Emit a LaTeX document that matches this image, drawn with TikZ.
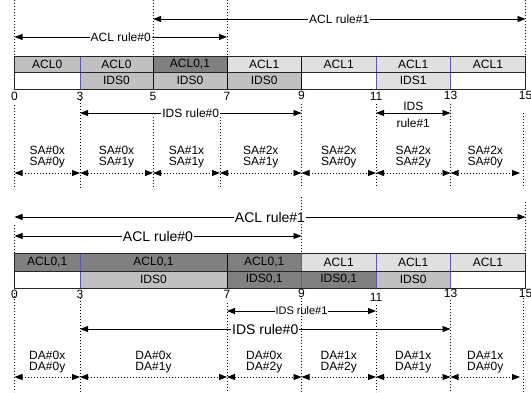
\documentclass[tikz,border=0pt]{standalone}
\usepackage{fontspec}
\setmainfont{Liberation Sans}
\usetikzlibrary{arrows.meta}
\definecolor{gdark}{HTML}{808080}
\definecolor{gmid}{HTML}{C0C0C0}
\definecolor{glight}{HTML}{E0E0E0}
\definecolor{navyline}{HTML}{000080}
\definecolor{slateline}{HTML}{5A5AB4}

\begin{document}
\begin{tikzpicture}[
    x=1pt, y=-1pt,
    every node/.style={font=\fontsize{12}{13}\selectfont},
    cell/.style={
        rectangle, draw=none, inner sep=0pt, outer sep=0pt,
        align=center,
    },
    rulearrow/.style={{Triangle[length=8pt,width=6pt]}-{Triangle[length=8pt,width=6pt]}, line width=0.8pt},
    spanarrow/.style={rulearrow, dash pattern=on 1pt off 2pt},
    rulelabel/.style={fill=white, inner sep=1pt},
    biglabel/.style={rulelabel, font=\fontsize{14}{16}\selectfont},
    smalllabel/.style={rulelabel, font=\fontsize{11}{12}\selectfont},
    spanlabel/.style={align=center, font=\fontsize{12}{11}\selectfont},
    ticklabel/.style={inner sep=0pt},
    guide/.style={line width=0.9pt, dash pattern=on 1pt off 2pt},
    divider/.style={line width=0.9pt, draw=navyline},
    softdivider/.style={line width=0.9pt, draw=slateline},
    barframe/.style={line width=0.9pt, draw=black!85},
]

\useasboundingbox (0,0) rectangle (531,392);

% =============================================================
% TOP: source address ranges
% =============================================================

% Guides above the bar
\draw[guide] (14.5,0) -- (14.5,56);
\draw[guide] (153,0) -- (153,56);
\draw[guide] (227,0) -- (227,56);
\draw[guide] (525.5,0) -- (525.5,56);

% ACL rules
\coordinate (aclOneA) at (153,19);
\coordinate (aclOneB) at (525.5,19);
\coordinate (aclZeroA) at (14.5,37);
\coordinate (aclZeroB) at (227,37);
\draw[rulearrow] (aclOneA) -- node[rulelabel] (aclOne) {ACL rule\#1} (aclOneB);
\draw[rulearrow] (aclZeroA) -- node[rulelabel] (aclZero) {ACL rule\#0} (aclZeroB);

% Bar, upper row
\node[cell, fill=gmid, minimum width=65.5pt, minimum height=16pt] (sa1) at (47.25,64) {ACL0};
\node[cell, fill=gmid, minimum width=73pt, minimum height=16pt] (sa2) at (116.5,64) {ACL0};
\node[cell, fill=gdark, minimum width=74pt, minimum height=16pt] (sa3) at (190,64) {ACL0,1};
\node[cell, fill=glight, minimum width=74.5pt, minimum height=16pt] (sa4) at (264.25,64) {ACL1};
\node[cell, fill=glight, minimum width=74.5pt, minimum height=16pt] (sa5) at (338.75,64) {ACL1};
\node[cell, fill=glight, minimum width=74.5pt, minimum height=16pt] (sa6) at (413.25,64) {ACL1};
\node[cell, fill=glight, minimum width=75pt, minimum height=16pt] (sa7) at (488,64) {ACL1};

% Bar, lower row
\node[cell, fill=gmid, minimum width=73pt, minimum height=17pt] (sb2) at (116.5,80.5) {IDS0};
\node[cell, fill=gmid, minimum width=74pt, minimum height=17pt] (sb3) at (190,80.5) {IDS0};
\node[cell, fill=gmid, minimum width=74.5pt, minimum height=17pt] (sb4) at (264.25,80.5) {IDS0};
\node[cell, fill=glight, minimum width=74.5pt, minimum height=17pt] (sb6) at (413.25,80.5) {IDS1};

\draw[softdivider] (80,56) -- (80,89);
\draw[divider] (153,56) -- (153,89);
\draw[divider] (227,56) -- (227,89);
\draw[divider] (301.5,56) -- (301.5,89);
\draw[softdivider] (376,56) -- (376,89);
\draw[softdivider] (450.5,56) -- (450.5,89);
\draw[barframe] (14.5,56) rectangle (525.5,89);
\draw[barframe] (14.5,72) -- (525.5,72);

% Positions
\node[ticklabel] (sn0) at (14.5,96) {0};
\node[ticklabel] (sn3) at (80,96) {3};
\node[ticklabel] (sn5) at (153,96) {5};
\node[ticklabel] (sn7) at (227,96) {7};
\node[ticklabel] (sn9) at (301.5,95) {9};
\node[ticklabel] (sn11) at (376,96) {11};
\node[ticklabel] (sn13) at (450.5,95) {13};
\node[ticklabel] (sn15) at (525.5,95) {15};

% IDS rules
\coordinate (idsZeroA) at (80,113);
\coordinate (idsZeroB) at (301.5,113);
\coordinate (idsOneA) at (376,113);
\coordinate (idsOneB) at (450.5,113);
\draw[rulearrow] (idsZeroA) -- node[rulelabel] (idsZero) {IDS rule\#0} (idsZeroB);
\draw[rulearrow] (idsOneA) -- (idsOneB);
\node[align=center, font=\fontsize{12}{17}\selectfont] (idsOne) at (413.25,114.5) {IDS\\rule\#1};

% Guides below the bar
\draw[guide] (14.5,105) -- (14.5,188);
\draw[guide] (80,100) -- (80,188);
\draw[guide] (153,117) -- (153,188);
\draw[guide] (220,117) -- (220,188);
\draw[guide] (301.5,104) -- (301.5,188);
\draw[guide] (376,104) -- (376,188);
\draw[guide] (450.5,104) -- (450.5,188);
\draw[guide] (523,113) -- (523,188);

% Source address spans
\coordinate (s0) at (14.5,173);
\coordinate (s3) at (80,173);
\coordinate (s5) at (153,173);
\coordinate (s7) at (220,173);
\coordinate (s9) at (301.5,173);
\coordinate (s11) at (376,173);
\coordinate (s13) at (450.5,173);
\coordinate (s15) at (520,173);
\draw[spanarrow] (s0) -- (s3);
\draw[spanarrow] (s3) -- (s5);
\draw[spanarrow] (s5) -- (s7);
\draw[spanarrow] (s7) -- (s9);
\draw[spanarrow] (s9) -- (s11);
\draw[spanarrow] (s11) -- (s13);
\draw[spanarrow] (s13) -- (s15);
\node[spanlabel] (sa01) at (47.25,157.5) {SA\#0x\\SA\#0y};
\node[spanlabel] (sa02) at (116.5,157.5) {SA\#0x\\SA\#1y};
\node[spanlabel] (sa03) at (186.5,157.5) {SA\#1x\\SA\#1y};
\node[spanlabel] (sa04) at (260.75,157.5) {SA\#2x\\SA\#1y};
\node[spanlabel] (sa05) at (338.75,157.5) {SA\#2x\\SA\#0y};
\node[spanlabel] (sa06) at (413.25,157.5) {SA\#2x\\SA\#2y};
\node[spanlabel] (sa07) at (485.25,157.5) {SA\#2x\\SA\#0y};

% =============================================================
% BOTTOM: destination address ranges
% =============================================================

% Guides above the bar
\draw[guide] (14.5,225) -- (14.5,253);
\draw[guide] (301.5,197) -- (301.5,253);
\draw[guide] (525.5,202) -- (525.5,253);

% ACL rules
\coordinate (daclOneA) at (14.5,217);
\coordinate (daclOneB) at (525.5,217);
\coordinate (daclZeroA) at (14.5,236);
\coordinate (daclZeroB) at (301.5,236);
\draw[rulearrow] (daclOneA) -- node[biglabel] (daclOne) {ACL rule\#1} (daclOneB);
\draw[rulearrow] (daclZeroA) -- node[biglabel] (daclZero) {ACL rule\#0} (daclZeroB);

% Bar, upper row
\node[cell, fill=gdark, minimum width=65.5pt, minimum height=18pt] (da1) at (47.25,262) {ACL0,1};
\node[cell, fill=gdark, minimum width=147pt, minimum height=18pt] (da2) at (153.5,262) {ACL0,1};
\node[cell, fill=gdark, minimum width=74.5pt, minimum height=18pt] (da3) at (264.25,262) {ACL0,1};
\node[cell, fill=glight, minimum width=74.5pt, minimum height=18pt] (da4) at (338.75,262) {ACL1};
\node[cell, fill=glight, minimum width=74.5pt, minimum height=18pt] (da5) at (413.25,262) {ACL1};
\node[cell, fill=glight, minimum width=75pt, minimum height=18pt] (da6) at (488,262) {ACL1};

% Bar, lower row
\node[cell, fill=gmid, minimum width=147pt, minimum height=17pt] (db2) at (153.5,279.5) {IDS0};
\node[cell, fill=gdark, minimum width=74.5pt, minimum height=17pt] (db3) at (264.25,279.5) {IDS0,1};
\node[cell, fill=gdark, minimum width=74.5pt, minimum height=17pt] (db4) at (338.75,279.5) {IDS0,1};
\node[cell, fill=gmid, minimum width=74.5pt, minimum height=17pt] (db5) at (413.25,279.5) {IDS0};

\draw[softdivider] (80,253) -- (80,288);
\draw[divider] (227,253) -- (227,288);
\draw[softdivider] (301.5,253) -- (301.5,288);
\draw[softdivider] (376,253) -- (376,288);
\draw[softdivider] (450.5,253) -- (450.5,288);
\draw[barframe] (14.5,253) rectangle (525.5,288);
\draw[barframe] (14.5,271) -- (525.5,271);

% Positions
\node[ticklabel] (dn0) at (14.5,294) {0};
\node[ticklabel] (dn3) at (80,294) {3};
\node[ticklabel] (dn7) at (227,294) {7};
\node[ticklabel] (dn9) at (301.5,293) {9};
\node[ticklabel] (dn11) at (376,297) {11};
\node[ticklabel] (dn13) at (450.5,293) {13};
\node[ticklabel] (dn15) at (525.5,293) {15};

% IDS rules
\coordinate (didsOneA) at (227,311);
\coordinate (didsOneB) at (376,311);
\coordinate (didsZeroA) at (80,329);
\coordinate (didsZeroB) at (450.5,329);
\draw[rulearrow] (didsOneA) -- node[smalllabel] (didsOne) {IDS rule\#1} (didsOneB);
\draw[rulearrow] (didsZeroA) -- node[biglabel] (didsZero) {IDS rule\#0} (didsZeroB);

% Guides below the bar
\draw[guide] (14.5,293) -- (14.5,392);
\draw[guide] (80,298) -- (80,392);
\draw[guide] (227,303) -- (227,392);
\draw[guide] (301.5,298) -- (301.5,392);
\draw[guide] (376,305) -- (376,392);
\draw[guide] (450.5,300) -- (450.5,392);
\draw[guide] (523,298) -- (523,392);

% Destination address spans
\coordinate (d0) at (14.5,377);
\coordinate (d3) at (80,377);
\coordinate (d7) at (227,377);
\coordinate (d9) at (301.5,377);
\coordinate (d11) at (376,377);
\coordinate (d13) at (450.5,377);
\coordinate (d15) at (520,377);
\draw[spanarrow] (d0) -- (d3);
\draw[spanarrow] (d3) -- (d7);
\draw[spanarrow] (d7) -- (d9);
\draw[spanarrow] (d9) -- (d11);
\draw[spanarrow] (d11) -- (d13);
\draw[spanarrow] (d13) -- (d15);
\node[spanlabel] (da01) at (47.25,362.5) {DA\#0x\\DA\#0y};
\node[spanlabel] (da02) at (153.5,362.5) {DA\#0x\\DA\#1y};
\node[spanlabel] (da03) at (264.25,362.5) {DA\#0x\\DA\#2y};
\node[spanlabel] (da04) at (338.75,362.5) {DA\#1x\\DA\#2y};
\node[spanlabel] (da05) at (413.25,362.5) {DA\#1x\\DA\#1y};
\node[spanlabel] (da06) at (485.25,362.5) {DA\#1x\\DA\#0y};

\end{tikzpicture}
\end{document}
